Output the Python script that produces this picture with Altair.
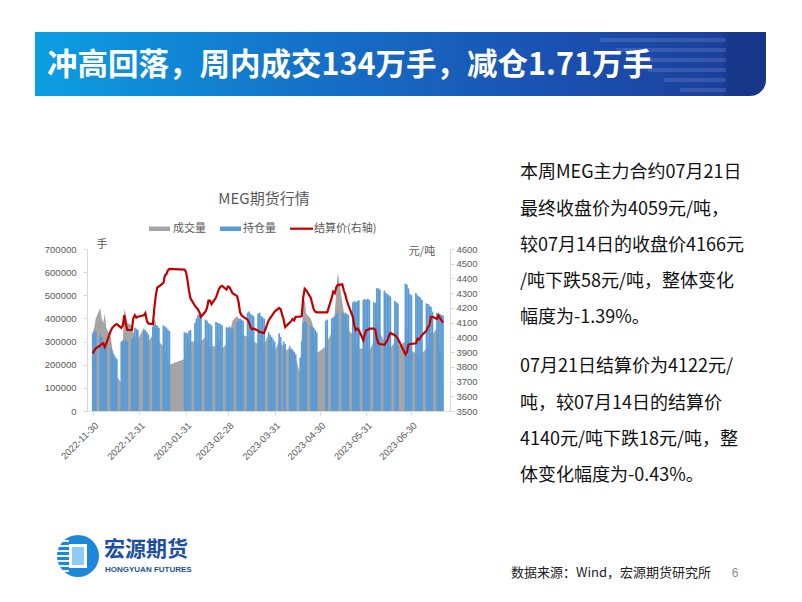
import altair as alt
import pandas as pd

# ---------------- data ----------------
HOLIDAYS = ["2023-01-02", "2023-01-23", "2023-01-24", "2023-01-25", "2023-01-26",
            "2023-01-27", "2023-04-05", "2023-05-01", "2023-05-02", "2023-05-03",
            "2023-06-22", "2023-06-23"]
trade_days = [d.strftime("%Y-%m-%d") for d in pd.bdate_range("2022-11-30", "2023-07-21")
              if d.strftime("%Y-%m-%d") not in HOLIDAYS]

# 成交量 (手)
volume = [
    340000,
    360000, 400000,
    445000, 400000, 380000, 420000, 360000,
    320000, 270000, 240000, 200000, 150000,
    120000, 300000, 440000, 420000, 380000,
    370000, 340000, 330000, 300000, 310000,
    360000, 340000, 310000, 300000,
    330000, 400000, 380000, 340000, 300000,
    280000, 260000, 240000, 220000, 200000,
    225000, 260000,
    280000, 290000, 300000,
    300000, 310000, 300000, 290000, 300000,
    320000, 310000, 290000, 270000, 280000,
    280000, 300000, 310000, 290000, 270000,
    290000, 320000,
    330000, 360000, 390000,
    410000, 400000, 380000, 350000, 330000,
    320000, 310000, 300000, 330000, 300000,
    290000, 320000, 300000, 280000, 290000,
    330000, 300000, 290000, 270000, 260000,
    300000, 290000, 280000, 260000,
    270000, 250000, 240000, 260000, 230000,
    160000, 330000, 470000, 480000, 420000,
    400000, 380000, 350000, 300000, 250000,
    280000, 300000,
    340000, 380000, 420000, 520000, 600000,
    470000, 430000, 400000, 380000, 350000,
    330000, 300000, 290000, 280000, 270000,
    270000, 260000, 280000,
    270000, 260000,
    300000, 320000, 380000, 390000, 340000,
    300000, 280000, 270000, 290000, 270000,
    300000, 330000, 280000,
    300000, 370000, 330000, 290000, 260000,
    250000, 230000, 240000, 260000, 250000,
    270000, 280000, 300000, 340000, 330000,
    360000, 280000, 260000, 230000, 210000,
]

# 持仓量 (手)
open_interest = [
    335000,
    340000, 345000,
    330000, 320000, 300000, 285000, 280000,
    275000, 260000, 245000, 235000, 225000,
    300000, 305000, 300000, 310000, 300000,
    310000, 320000, 360000, 355000, 350000,
    345000, 350000, 340000, 330000,
    365000, 370000, 372000, 368000, 360000,
    370000, 365000, 360000, 352000, 345000,
    340000, 338000,
    335000, 345000, 350000,
    380000, 400000, 415000, 420000, 410000,
    395000, 390000, 380000, 375000, 370000,
    385000, 380000, 378000, 375000, 370000,
    362000, 360000,
    365000, 358000, 355000,
    385000, 395000, 400000, 395000, 390000,
    425000, 430000, 420000, 415000, 410000,
    420000, 425000, 410000, 405000, 400000,
    340000, 330000, 320000, 310000, 300000,
    335000, 320000, 300000, 290000,
    280000, 270000, 265000, 255000, 245000,
    230000, 300000, 380000, 390000, 385000,
    370000, 365000, 360000, 350000, 340000,
    390000, 395000,
    400000, 405000, 410000, 420000, 430000,
    425000, 420000, 425000, 420000, 415000,
    470000, 475000, 470000, 475000, 478000,
    480000, 485000, 480000,
    485000, 480000,
    470000, 468000, 530000, 530000, 525000,
    520000, 510000, 505000, 500000, 495000,
    475000, 470000, 465000,
    550000, 545000, 530000, 505000, 500000,
    510000, 500000, 495000, 490000, 480000,
    465000, 462000, 455000, 450000, 430000,
    425000, 420000, 418000, 415000, 413000,
]

# 结算价 (元/吨)
settle = [
    3890,
    3910, 3925,
    3945, 3955, 3960, 3935, 3960,
    4045, 4065, 4075, 4085, 4090,
    4065, 4080, 4150, 4090, 4050,
    4050, 4130, 4150, 4135, 4140,
    4150, 4165, 4110, 4095,
    4090, 4200, 4290, 4340, 4345,
    4370, 4420, 4430, 4455, 4465,
    4460, 4445,
    4390, 4320, 4265,
    4215, 4200, 4190, 4170, 4140,
    4175, 4200, 4250, 4250, 4225,
    4270, 4300, 4330, 4345, 4350,
    4325, 4345,
    4340, 4320, 4300,
    4280, 4240, 4170, 4150, 4140,
    4120, 4100, 4070, 4055, 4060,
    4045, 4035, 4035, 4030, 4030,
    4115, 4130, 4145, 4160, 4175,
    4200, 4190, 4120, 4070,
    4100, 4110, 4125, 4115, 4140,
    4140, 4145, 4270, 4330, 4320,
    4270, 4230, 4190, 4175, 4170,
    4170, 4170,
    4270, 4310, 4300, 4340, 4355,
    4360, 4320, 4290, 4250, 4220,
    4140, 4080, 4050, 4060, 4050,
    3980, 4020, 4050,
    4050, 4060,
    4060, 4050, 3990, 3960, 3955,
    3950, 3965, 3980, 4010, 4030,
    4015, 4005, 3990,
    3885, 3900, 3950, 3955, 3955,
    3960, 3990, 3985, 4000, 4015,
    4045, 4070, 4080, 4140, 4140,
    4125, 4150, 4130, 4115, 4100,
]

month_ticks = [(2022, 11, 30), (2022, 12, 31), (2023, 1, 31), (2023, 2, 28),
               (2023, 3, 31), (2023, 4, 30), (2023, 5, 31), (2023, 6, 30)]
left_ticks = [0, 100000, 200000, 300000, 400000, 500000, 600000, 700000]
right_ticks = list(range(3500, 4601, 100))

title_text = "冲高回落，周内成交134万手，减仓1.71万手"
chart_title = "MEG期货行情"
legend_labels = ["成交量", "持仓量", "结算价(右轴)"]
paragraph = [
    "本周MEG主力合约07月21日",
    "最终收盘价为4059元/吨，",
    "较07月14日的收盘价4166元",
    "/吨下跌58元/吨，整体变化",
    "幅度为-1.39%。",
    "07月21日结算价为4122元/",
    "吨，较07月14日的结算价",
    "4140元/吨下跌18元/吨，整",
    "体变化幅度为-0.43%。",
]
source_text = "数据来源：Wind，宏源期货研究所"

n = min(len(trade_days), len(volume), len(open_interest), len(settle))
df = pd.DataFrame({"date": trade_days[:n], "vol": volume[:n],
                   "oi": open_interest[:n], "px": settle[:n]})

# ---------------- layout (plot origin at page 87,249) ----------------
OX, OY = 87, 249
def px(x):
    return x - OX
def py(y):
    return y - OY

GRAY = "#A5A5A5"
BLUE = "#5B9BD5"
RED = "#C00000"
TXT = "#595959"
CJK = "Noto Sans CJK SC"

xscale = alt.Scale(type="utc", domain=[
    alt.DateTime(year=2022, month=11, date=29, hours=12, utc=True),
    alt.DateTime(year=2023, month=7, date=22, hours=8, utc=True)])
xaxis = alt.Axis(values=[alt.DateTime(year=y, month=m, date=d, utc=True) for y, m, d in month_ticks],
                 format="%Y-%m-%d", labelAngle=-45, title=None, labelPadding=5,
                 labelFontSize=9.5)
X = alt.X("date:T", scale=xscale, axis=xaxis)

base = alt.Chart(df)
area = base.mark_area(color=GRAY, interpolate="linear").encode(
    x=X,
    y=alt.Y("vol:Q", scale=alt.Scale(domain=[0, 700000]),
            axis=alt.Axis(values=left_ticks, format="d", title=None, orient="left",
                          labelPadding=7)))
bars = base.mark_bar(width=1.7, color=BLUE).encode(
    x=X,
    y=alt.Y("oi:Q", scale=alt.Scale(domain=[0, 700000]), axis=None))
line = base.mark_line(color=RED, strokeWidth=2.2).encode(
    x=X,
    y=alt.Y("px:Q", scale=alt.Scale(domain=[3500, 4600]),
            axis=alt.Axis(values=right_ticks, format="d", title=None, orient="right",
                          labelPadding=2)))

one = pd.DataFrame({"k": [0]})
decor = []

# banner
decor.append(alt.Chart(one).mark_rect(
    fill=alt.LinearGradient(gradient="linear", x1=0, x2=1, y1=0, y2=0, stops=[
        alt.GradientStop(offset=0, color="#0B9EE3"),
        alt.GradientStop(offset=0.35, color="#1474CA"),
        alt.GradientStop(offset=0.7, color="#1A52B2"),
        alt.GradientStop(offset=0.94, color="#1C409D"),
        alt.GradientStop(offset=0.95, color="#173589"),
        alt.GradientStop(offset=1, color="#173589")]),
    cornerRadiusBottomRight=16).encode(
    x=alt.value(px(35)), x2=alt.value(px(766)), y=alt.value(py(32)), y2=alt.value(py(96))))
for i, sy in enumerate([40, 50, 60, 70, 80, 90]):
    decor.append(alt.Chart(one).mark_rule(color="white", opacity=0.12, strokeWidth=4).encode(
        x=alt.value(px(600 + i * 16)), x2=alt.value(px(726)), y=alt.value(py(sy))))
decor.append(alt.Chart(one).mark_text(
    text=title_text, font=CJK, fontSize=30.5, fontWeight="bold", color="white",
    align="left", baseline="middle").encode(x=alt.value(px(47)), y=alt.value(py(66))))

# chart title + legend
decor.append(alt.Chart(one).mark_text(
    text=chart_title, font=CJK, fontSize=15, color=TXT, align="center",
    baseline="middle").encode(x=alt.value(px(264)), y=alt.value(py(199))))
decor.append(alt.Chart(one).mark_rect(color=GRAY).encode(
    x=alt.value(px(149)), x2=alt.value(px(170)), y=alt.value(py(226.5)), y2=alt.value(py(231))))
decor.append(alt.Chart(one).mark_rect(color=BLUE).encode(
    x=alt.value(px(220)), x2=alt.value(px(241)), y=alt.value(py(226.5)), y2=alt.value(py(231))))
decor.append(alt.Chart(one).mark_rule(color=RED, strokeWidth=2.2).encode(
    x=alt.value(px(290)), x2=alt.value(px(313)), y=alt.value(py(228.7))))
for lx, lab in zip([173, 243, 314], legend_labels):
    decor.append(alt.Chart(one).mark_text(
        text=lab, font=CJK, fontSize=11, color=TXT, align="left",
        baseline="middle").encode(x=alt.value(px(lx)), y=alt.value(py(228.7))))

# axis unit labels
decor.append(alt.Chart(one).mark_text(
    text="手", font=CJK, fontSize=11, color=TXT, align="center",
    baseline="middle").encode(x=alt.value(px(102)), y=alt.value(py(245))))
decor.append(alt.Chart(one).mark_text(
    text="元/吨", font=CJK, fontSize=11, color=TXT, align="center",
    baseline="middle").encode(x=alt.value(px(422)), y=alt.value(py(252))))

# right paragraph
for ty, ln in zip([173, 210, 246, 282, 318, 367, 404, 440, 476], paragraph):
    decor.append(alt.Chart(one).mark_text(
        text=ln, font=CJK, fontSize=18, color="#111111", align="left",
        baseline="middle").encode(x=alt.value(px(520)), y=alt.value(py(ty))))

# footer
decor.append(alt.Chart(one).mark_text(
    text=source_text, font=CJK, fontSize=13, color="#222222", align="left",
    baseline="middle").encode(x=alt.value(px(511)), y=alt.value(py(573))))
decor.append(alt.Chart(one).mark_text(
    text="6", font="Liberation Sans", fontSize=12, color="#8C8C8C", align="center",
    baseline="middle").encode(x=alt.value(px(735)), y=alt.value(py(573))))

# logo
decor.append(alt.Chart(one).mark_arc(color="#1E88D8", outerRadius=21, innerRadius=0,
                                     theta=0, theta2=6.2832).encode(
    x=alt.value(px(78)), y=alt.value(py(556))))
for sy in [541, 546, 551, 556, 561, 566, 571]:
    decor.append(alt.Chart(one).mark_rule(color="white", strokeWidth=1.8).encode(
        x=alt.value(px(56)), x2=alt.value(px(69)), y=alt.value(py(sy))))
decor.append(alt.Chart(one).mark_rect(color="white").encode(
    x=alt.value(px(69)), x2=alt.value(px(87)), y=alt.value(py(544)), y2=alt.value(py(568))))
decor.append(alt.Chart(one).mark_rect(color="#8FCBF2").encode(
    x=alt.value(px(72)), x2=alt.value(px(84)), y=alt.value(py(547)), y2=alt.value(py(565))))
decor.append(alt.Chart(one).mark_text(
    text="宏源期货", font=CJK, fontSize=21, fontWeight="bold", color="#1D4FA0",
    align="left", baseline="middle").encode(x=alt.value(px(104)), y=alt.value(py(550))))
decor.append(alt.Chart(one).mark_text(
    text="HONGYUAN FUTURES", font="Liberation Sans", fontSize=8, fontWeight="bold",
    color="#1D4FA0", align="left", baseline="middle").encode(
    x=alt.value(px(105)), y=alt.value(py(570))))

chart = alt.layer(area, bars, line, *decor).resolve_scale(y="independent").properties(
    width=363, height=162,
    autosize=alt.AutoSizeParams(type="none"),
    padding={"left": 79, "top": 241, "right": 342, "bottom": 181},
    background="white",
).configure_view(stroke=None).configure_axis(
    labelFont="Liberation Sans", labelColor=TXT, labelFontSize=9.5,
    domainColor="#D9D9D9", tickColor="#D9D9D9", tickSize=4, grid=False)

chart.save("out.html", embed_options={"renderer": "svg", "actions": False})
